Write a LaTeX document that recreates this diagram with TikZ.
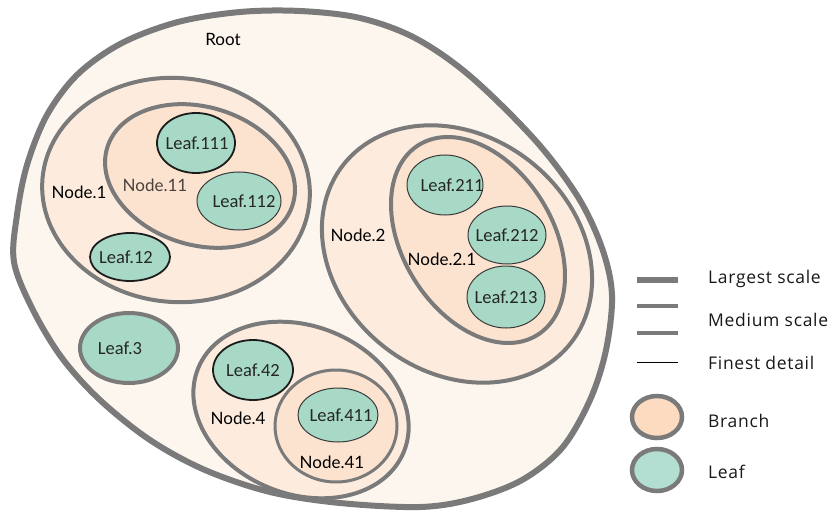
\documentclass[tikz,border=0pt]{standalone}
\usepackage{fontspec}
\setmainfont{Lato}
\newfontfamily\leaffont{Carlito}
\newfontfamily\legfont[LetterSpace=4]{Open Sans}
\usetikzlibrary{shapes.geometric}
\definecolor{rootfill}{HTML}{FDF6EF}
\definecolor{brfill}{HTML}{FDECDE}
\definecolor{subfill}{HTML}{FCE3CF}
\definecolor{leaffill}{HTML}{A7D9C6}
\definecolor{legbranch}{HTML}{FCDBC0}
\definecolor{legleaf}{HTML}{B2DFD2}
\definecolor{edgegray}{HTML}{7A7A7A}
\definecolor{darkline}{HTML}{1C1C1C}
\definecolor{thinline}{HTML}{3A3A3A}
\definecolor{subtext}{HTML}{4A403C}
\begin{document}
\begin{tikzpicture}[x=1pt,y=-1pt,
  branch/.style={ellipse, draw=edgegray, line width=4pt, inner sep=0pt, fill=brfill},
  subbranch/.style={ellipse, draw=edgegray, line width=4pt, inner sep=0pt, fill=subfill},
  leaf/.style={ellipse, inner sep=0pt, fill=leaffill, text=black!85,
     font=\leaffont\fontsize{18.5}{20}\selectfont},
  leafthick/.style={leaf, draw=darkline, line width=1.8pt},
  leafthin/.style={leaf, draw=thinline, line width=1pt},
  leafgray/.style={leaf, draw=edgegray, line width=4pt},
  lbl/.style={font=\fontsize{17}{19}\selectfont, text=black, inner sep=0pt},
  leg/.style={font=\legfont\fontsize{17.5}{20}\selectfont, text=black!90, anchor=west, inner sep=0pt}
]
\useasboundingbox (0,0) rectangle (829,513);
\fill[white] (0,0) rectangle (829,513);

% Root
\draw[edgegray, line width=6pt, fill=rootfill] plot[smooth cycle, tension=0.55] coordinates {
 (14,262) (17,215) (27,165) (47,115) (78,74) (122,43) (178,22) (240,12) (300,11)
 (360,18) (415,38) (470,76) (535,140) (578,197) (602,248) (612,295) (606,350)
 (590,400) (562,448) (522,480) (472,499) (420,507) (340,503) (270,492) (205,470)
 (150,440) (100,400) (62,358) (33,310)};
\node[lbl] (root) at (223,39) {Root};

% Node.1
\node[branch, minimum width=268pt, minimum height=224pt, rotate=-5] (n1) at (176,190) {};
\node[subbranch, minimum width=194pt, minimum height=138pt, rotate=-17] (n11) at (200,176) {};
\node[leafthick, minimum width=78pt, minimum height=60pt] (l111) at (196,143) {\makebox[0pt]{\hspace{2pt}Leaf.111}};
\node[leafthin, minimum width=84pt, minimum height=58pt] (l112) at (239,201) {\makebox[0pt]{\hspace{10pt}Leaf.112}};
\node[leafthick, minimum width=80pt, minimum height=48pt] (l12) at (130,257) {\makebox[0pt]{Leaf.12\hspace{8pt}}};
\node[lbl] (t1) at (79,192) {Node.1};
\node[lbl, text=subtext] (t11) at (155,185) {Node.11};

% Leaf.3
\node[leafgray, minimum width=98pt, minimum height=70pt] (l3) at (129,348) {\makebox[0pt]{Leaf.3\hspace{18pt}}};

% Node.2
\node[branch, minimum width=289pt, minimum height=236pt, rotate=-38] (n2) at (457,254) {};
\node[subbranch, minimum width=224pt, minimum height=150pt, rotate=-58] (n21) at (478,240) {};
\node[leafthin, minimum width=76pt, minimum height=60pt] (l211) at (445,185) {\makebox[0pt]{\hspace{14pt}Leaf.211}};
\node[leafthin, minimum width=78pt, minimum height=58pt] (l212) at (507,235) {\makebox[0pt]{Leaf.212}};
\node[leafthin, minimum width=78pt, minimum height=62pt] (l213) at (506,297) {\makebox[0pt]{Leaf.213}};
\node[lbl] (t2) at (358,235) {Node.2};
\node[lbl] (t21) at (442,259) {Node.2.1};

% Node.4
\node[branch, minimum width=222pt, minimum height=168pt, rotate=-22] (n4) at (301,410) {};
\node[subbranch, line width=3pt, minimum width=122pt, minimum height=112pt] (n41) at (336,426) {};
\node[leafthick, minimum width=80pt, minimum height=60pt] (l42) at (253,370) {\makebox[0pt]{Leaf.42}};
\node[leafthin, minimum width=80pt, minimum height=54pt] (l411) at (338,415) {\makebox[0pt]{\hspace{6pt}Leaf.411}};
\node[lbl] (t4) at (238,418) {Node.4};
\node[lbl] (t41) at (332,462) {Node.41};

% Legend
\draw[edgegray, line width=6.5pt] (637,280) -- (678,280);
\draw[edgegray, line width=4.5pt] (637,306) -- (678,306);
\draw[edgegray, line width=4.5pt] (637,333) -- (678,333);
\draw[black, line width=0.9pt] (637,362) -- (678,362);
\node[ellipse, draw=edgegray, line width=4.5pt, fill=legbranch, inner sep=0pt,
      minimum width=50pt, minimum height=42pt] (lgb) at (657,417) {};
\node[ellipse, draw=edgegray, line width=4.5pt, fill=legleaf, inner sep=0pt,
      minimum width=50pt, minimum height=42pt] (lgl) at (657,470) {};
\node[leg] (g1) at (708,279) {Largest scale};
\node[leg] (g2) at (708,320) {Medium scale};
\node[leg] (g3) at (708,363) {Finest detail};
\node[leg] (g4) at (708,421) {Branch};
\node[leg] (g5) at (708,472) {Leaf};
\end{tikzpicture}
\end{document}
